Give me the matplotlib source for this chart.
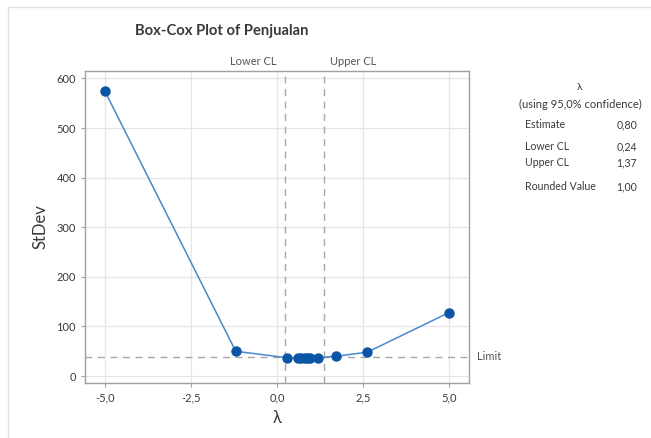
import matplotlib
matplotlib.use("Agg")
import matplotlib.pyplot as plt
from matplotlib.patches import Rectangle
from matplotlib.transforms import offset_copy

lambdas = [-5.0, -1.2, 0.28, 0.62, 0.70, 0.80, 0.90, 0.97, 1.19, 1.72, 2.62, 5.0]
stdev = [574, 50, 37, 36, 36, 36, 36, 36, 37, 40, 48, 128]
limit = 39
lower_cl = 0.24
upper_cl = 1.37
xticks = [-5.0, -2.5, 0.0, 2.5, 5.0]
yticks = [0, 100, 200, 300, 400, 500, 600]
summary_labels = ["Estimate", "Lower CL", "Upper CL", "Rounded Value"]
summary_values = ["0,80", "0,24", "1,37", "1,00"]

plt.rcParams['font.family'] = ['Lato', 'DejaVu Sans']
txt = '#3a3a3a'

W, H = 651, 438
fig = plt.figure(figsize=(W/100, H/100), dpi=100)
fig.patch.set_facecolor('white')

def fx(px): return px / W
def fy(py): return 1 - py / H

ax = fig.add_axes([fx(85), fy(383), fx(469) - fx(85), fy(71) - fy(383)])
ax.set_xlim(-5.58, 5.58)
ax.set_ylim(-14, 615)
ax.set_xticks(xticks)
ax.set_xticklabels([f"{t:.1f}".replace('.', ',') for t in xticks])
ax.set_yticks(yticks)
ax.grid(True, color='#e6e6e6', linewidth=0.9)
ax.set_axisbelow(True)
for s in ax.spines.values():
    s.set_color('#a0a0a0')
    s.set_linewidth(1.0)
ax.tick_params(colors='#a0a0a0', labelcolor=txt, labelsize=8, length=3, width=0.8)

ax.axhline(limit, color='#a8a8a8', linestyle=(0, (5, 4)), linewidth=1.0, zorder=1)
ax.axvline(lower_cl, color='#a8a8a8', linestyle=(0, (5, 4)), linewidth=1.0, zorder=1)
ax.axvline(upper_cl, color='#a8a8a8', linestyle=(0, (5, 4)), linewidth=1.0, zorder=1)

ax.plot(lambdas, stdev, color='#4a88cc', linewidth=1.1, zorder=3)
ax.plot(lambdas, stdev, linestyle='none', marker='o', markersize=6.5,
        color='#0a55a5', zorder=4)

xt = ax.get_xaxis_transform()
ax.text(lower_cl, 1.012, "Lower CL", transform=offset_copy(xt, fig=fig, x=-9, y=0, units='dots'),
        ha='right', va='bottom', fontsize=8, color='#555555')
ax.text(upper_cl, 1.012, "Upper CL", transform=offset_copy(xt, fig=fig, x=6, y=0, units='dots'),
        ha='left', va='bottom', fontsize=8, color='#555555')
ax.text(1.02, limit, "Limit", transform=ax.get_yaxis_transform(),
        ha='left', va='center', fontsize=8, color='#555555')

ax.set_ylabel("StDev", fontsize=12, color=txt, labelpad=6)
ax.set_xlabel("λ", fontsize=12, color=txt, labelpad=5)

fig.text(fx(222), fy(31), "Box-Cox Plot of Penjualan", ha='center', va='center',
         fontsize=10.6, fontweight='bold', color=txt)

fig.text(fx(580), fy(87), "λ", ha='center', va='center', fontsize=7.5, color=txt)
fig.text(fx(580), fy(104), "(using 95,0% confidence)", ha='center', va='center',
         fontsize=8, color=txt)
ys = [125, 147, 163, 187]
for lab, val, yy in zip(summary_labels, summary_values, ys):
    fig.text(fx(525), fy(yy), lab, ha='left', va='center', fontsize=7.6, color=txt)
    fig.text(fx(637), fy(yy), val, ha='right', va='center', fontsize=7.6, color=txt)

fig.add_artist(Rectangle((fx(8), -0.05), 1.1, fy(7) + 0.05, transform=fig.transFigure,
                         fill=False, edgecolor='#e2e2e2', linewidth=1.0))

fig.savefig("out.png", dpi=100)
